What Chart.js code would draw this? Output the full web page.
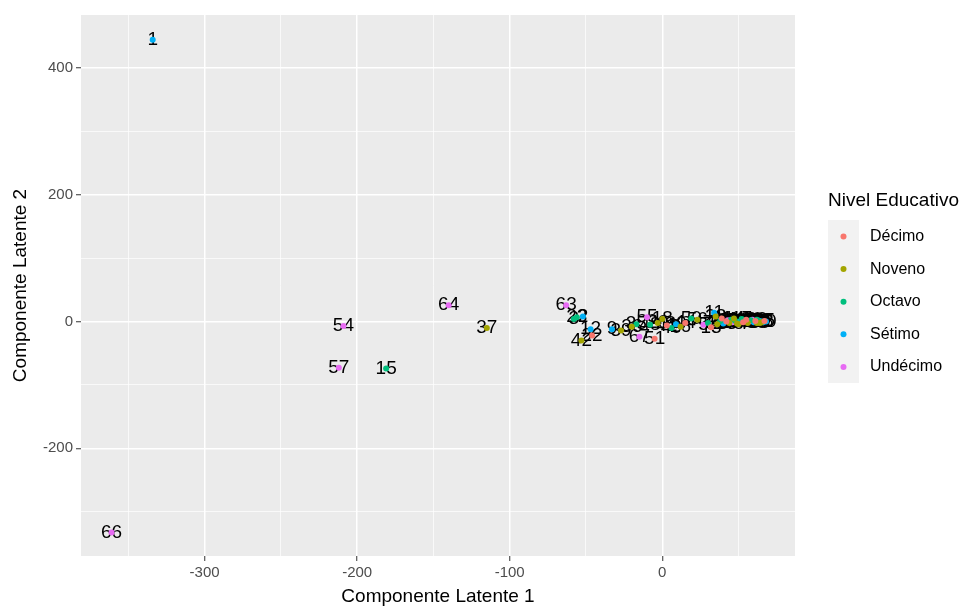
<!DOCTYPE html>
<html>
<head>
<meta charset="utf-8">
<script src="https://cdn.jsdelivr.net/npm/chart.js@4.4.1/dist/chart.umd.min.js"></script>
<style>
  html, body { margin: 0; padding: 0; background: #fff; }
</style>
</head>
<body>
<canvas id="chart" width="971" height="609"></canvas>
<script>
// id of each student, the two latent components and the level
const ids    = [1, 66, 54, 57, 15, 64, 37, 63, 23, 12, 42, 22, 9, 39, 36, 35, 55, 67, 51, 48,
                20, 18, 41, 49, 30, 26, 44, 50, 56, 11, 5, 7, 13, 16, 19, 24, 27, 29, 31, 33,
                34, 38, 40, 43, 45, 46, 47, 52, 53, 58, 59, 60, 61, 62, 65, 68, 70, 4, 6, 8,
                10, 14, 17, 21, 25, 28, 32, 3, 2, 69]
const comp1  = [-334, -361, -209, -212, -181, -140, -115, -63, -56, -47, -53, -46, -33, -27, -20, -17, -10, -15, -5, -8,
                -3, 0, 3, 6, 9, 12, 15, 19, 23, 34, 27, 30, 32, 36, 38, 40, 42, 44, 46, 48,
                49, 51, 53, 54, 56, 57, 58, 60, 61, 62, 63, 64, 65, 66, 67, 66, 68, 45, 50, 55,
                59, 47, 52, 39, 43, 35, 62, -58, -52, 64]
const comp2  = [445, -333, -7, -73, -74, 26, -10, 26, 7, -12, -30, -22, -12, -14, -8, -4, 7, -24, -27, -5,
                -2, 4, -6, -10, -4, -8, -2, 5, 3, 14, -5, -2, -9, -4, 1, -3, 0, -2, -1, 1,
                -3, 0, -1, 1, -2, 0, 2, -1, 1, -2, 0, 1, -1, 0, 1, -1, 0, 3, -4, 3,
                3, 5, 4, 5, 2, 8, 3, 4, 8, -2]
const nivel  = ['Sétimo', 'Undécimo', 'Undécimo', 'Undécimo', 'Octavo', 'Undécimo', 'Noveno', 'Undécimo', 'Octavo', 'Sétimo',
                'Noveno', 'Décimo', 'Sétimo', 'Noveno', 'Noveno', 'Octavo', 'Undécimo', 'Undécimo', 'Décimo', 'Octavo',
                'Noveno', 'Noveno', 'Décimo', 'Octavo', 'Sétimo', 'Noveno', 'Décimo', 'Octavo', 'Noveno', 'Sétimo',
                'Undécimo', 'Octavo', 'Décimo', 'Noveno', 'Octavo', 'Sétimo', 'Décimo', 'Noveno', 'Undécimo', 'Octavo',
                'Noveno', 'Sétimo', 'Décimo', 'Octavo', 'Noveno', 'Undécimo', 'Octavo', 'Sétimo', 'Décimo', 'Noveno',
                'Octavo', 'Sétimo', 'Noveno', 'Octavo', 'Décimo', 'Sétimo', 'Sétimo', 'Octavo', 'Noveno', 'Décimo',
                'Undécimo', 'Noveno', 'Octavo', 'Décimo', 'Undécimo', 'Noveno', 'Octavo', 'Octavo', 'Sétimo', 'Noveno']

const niveles = ['Décimo', 'Noveno', 'Octavo', 'Sétimo', 'Undécimo']
const colores = ['#F8766D', '#A3A500', '#00BF7D', '#00B0F6', '#E76BF3']

// empty label = minor grid line
const xTicks  = [-350, -300, -250, -200, -150, -100, -50, 0, 50]
const xLabels = ['', '-300', '', '-200', '', '-100', '', '0', '']
const yTicks  = [-300, -200, -100, 0, 100, 200, 300, 400]
const yLabels = ['', '-200', '', '0', '', '200', '', '400']

const FONT = "'Liberation Sans', Arial, sans-serif"
Chart.defaults.font.family = FONT

const datasets = niveles.map((n, k) => ({
  label: n,
  data: ids.map((id, i) => ({ x: comp1[i], y: comp2[i], id, n: nivel[i] }))
           .filter(p => p.n === n),
  backgroundColor: colores[k],
  borderWidth: 0,
  pointRadius: 3,
  pointHoverRadius: 3
}))

// grey ggplot panel
const panelBg = {
  id: 'panelBg',
  beforeDraw(chart) {
    const { ctx, chartArea: a } = chart
    ctx.save()
    ctx.fillStyle = '#EBEBEB'
    ctx.fillRect(a.left, a.top, a.right - a.left, a.bottom - a.top)
    ctx.restore()
  }
}

// id labels under the points
const idLabels = {
  id: 'idLabels',
  beforeDatasetsDraw(chart) {
    const ctx = chart.ctx
    ctx.save()
    ctx.font = `19px ${FONT}`
    ctx.fillStyle = '#000'
    ctx.textAlign = 'center'
    ctx.textBaseline = 'middle'
    chart.data.datasets.forEach((ds, i) => {
      chart.getDatasetMeta(i).data.forEach((pt, j) => {
        ctx.fillText(String(ds.data[j].id), pt.x, pt.y)
      })
    })
    ctx.restore()
  }
}

// legend in ggplot style
const ggLegend = {
  id: 'ggLegend',
  afterDraw(chart) {
    const ctx = chart.ctx
    ctx.save()
    ctx.textBaseline = 'middle'
    ctx.textAlign = 'left'
    ctx.fillStyle = '#000'
    ctx.font = `19px ${FONT}`
    ctx.fillText('Nivel Educativo', 828, 201)
    ctx.fillStyle = '#F2F2F2'
    ctx.fillRect(828, 220, 31, 163)
    ctx.font = `16px ${FONT}`
    niveles.forEach((n, k) => {
      const y = 236.5 + k * 32.6
      ctx.fillStyle = colores[k]
      ctx.beginPath()
      ctx.arc(843.5, y, 3, 0, Math.PI * 2)
      ctx.fill()
      ctx.fillStyle = '#000'
      ctx.fillText(n, 870, y)
    })
    ctx.restore()
  }
}

const majorX = v => xLabels[xTicks.indexOf(v)] !== ''
const majorY = v => yLabels[yTicks.indexOf(v)] !== ''

new Chart(document.getElementById('chart'), {
  type: 'scatter',
  data: { datasets },
  plugins: [panelBg, idLabels, ggLegend],
  options: {
    responsive: false,
    animation: false,
    devicePixelRatio: 1,
    layout: { padding: { top: 15, right: 176, left: 0, bottom: 0 } },
    plugins: { legend: { display: false }, tooltip: { enabled: false } },
    scales: {
      x: {
        type: 'linear', min: -381, max: 87,
        afterBuildTicks: s => { s.ticks = xTicks.map(v => ({ value: v })) },
        afterFit: s => { s.height = 53 },
        ticks: {
          callback: v => xLabels[xTicks.indexOf(v)],
          autoSkip: false, maxRotation: 0, padding: 3,
          color: '#4D4D4D', font: { size: 15 }
        },
        grid: {
          color: '#FFFFFF',
          lineWidth: c => majorX(c.tick.value) ? 1.5 : 0.7,
          tickColor: c => majorX(c.tick.value) ? '#333333' : 'rgba(0,0,0,0)',
          tickLength: 5, tickWidth: 1
        },
        border: { display: false },
        title: {
          display: true, text: 'Componente Latente 1', color: '#000',
          font: { size: 19 }, padding: { top: 0, bottom: 1 }
        }
      },
      y: {
        type: 'linear', min: -370, max: 484,
        afterBuildTicks: s => { s.ticks = yTicks.map(v => ({ value: v })) },
        afterFit: s => { s.width = 81 },
        ticks: {
          callback: v => yLabels[yTicks.indexOf(v)],
          autoSkip: false, padding: 3,
          color: '#4D4D4D', font: { size: 15 }
        },
        grid: {
          color: '#FFFFFF',
          lineWidth: c => majorY(c.tick.value) ? 1.5 : 0.7,
          tickColor: c => majorY(c.tick.value) ? '#333333' : 'rgba(0,0,0,0)',
          tickLength: 5, tickWidth: 1
        },
        border: { display: false },
        title: {
          display: true, text: 'Componente Latente 2', color: '#000',
          font: { size: 19 }, padding: { top: 9, bottom: 0 }
        }
      }
    }
  }
})
</script>
</body>
</html>
